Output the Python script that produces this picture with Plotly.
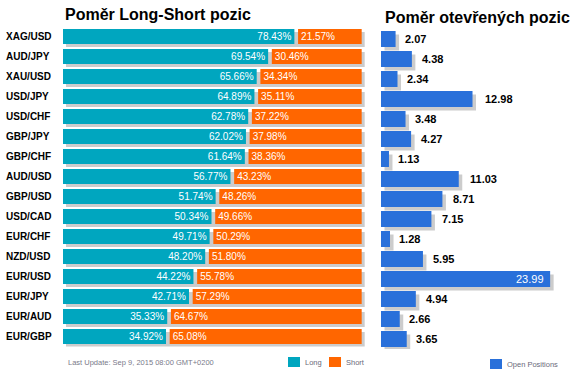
import plotly.graph_objects as go

# ---------------- data ----------------
pairs = ["XAG/USD", "AUD/JPY", "XAU/USD", "USD/JPY", "USD/CHF", "GBP/JPY", "GBP/CHF", "AUD/USD",
         "GBP/USD", "USD/CAD", "EUR/CHF", "NZD/USD", "EUR/USD", "EUR/JPY", "EUR/AUD", "EUR/GBP"]
long_pct = [78.43, 69.54, 65.66, 64.89, 62.78, 62.02, 61.64, 56.77,
            51.74, 50.34, 49.71, 48.20, 44.22, 42.71, 35.33, 34.92]
short_pct = [21.57, 30.46, 34.34, 35.11, 37.22, 37.98, 38.36, 43.23,
             48.26, 49.66, 50.29, 51.80, 55.78, 57.29, 64.67, 65.08]
open_pos = [2.07, 4.38, 2.34, 12.98, 3.48, 4.27, 1.13, 11.03,
            8.71, 7.15, 1.28, 5.95, 23.99, 4.94, 2.66, 3.65]

title_left = "Poměr Long-Short pozic"
title_right = "Poměr otevřených pozic"
update_text = "Last Update: Sep 9, 2015 08:00 GMT+0200"

# ---------------- style ----------------
W, H = 580, 376
FONT = "Liberation Sans, Arial, sans-serif"
TEAL = "#00A6BF"
ORANGE = "#FF6600"
BLUE = "#2970DA"
SHADOW = "#CCCCCC"

def px_x(x):
    return x / W

def px_y(y):
    return 1 - y / H

n = len(pairs)
ROW = 20.0  # px per row
# left chart geometry
L_X0, L_X1, L_SCALE = 63, 372, 2.95     # px, px, px per unit
GAP = 1.25                               # units between long & short
L_SHX = 3 / L_SCALE
L_W = 15 / ROW
# right chart geometry
R_X0, R_X1, R_SCALE = 381, 580, 7.05
R_SHX = 3.5 / R_SCALE
R_W = 16 / ROW

left_top = 36.5 - ROW / 2
right_top = 39.0 - ROW / 2

fig = go.Figure()

# left shadows
fig.add_trace(go.Bar(
    y=pairs, x=[l + s + GAP for l, s in zip(long_pct, short_pct)], base=L_SHX,
    orientation="h", width=L_W, offset=-L_W / 2 + 3 / ROW,
    marker=dict(color=SHADOW, line=dict(width=0)), hoverinfo="skip",
    xaxis="x", yaxis="y", showlegend=False))
# long
fig.add_trace(go.Bar(
    y=pairs, x=long_pct, base=0, orientation="h", width=L_W, offset=-L_W / 2,
    marker=dict(color=TEAL, line=dict(width=0)),
    text=[f"{v:.2f}%" for v in long_pct], textposition="inside", insidetextanchor="end",
    textangle=0, constraintext="none",
    textfont=dict(color="white", size=10, family=FONT),
    name="Long", xaxis="x", yaxis="y", showlegend=False))
# short
fig.add_trace(go.Bar(
    y=pairs, x=short_pct, base=[l + GAP for l in long_pct], orientation="h",
    width=L_W, offset=-L_W / 2,
    marker=dict(color=ORANGE, line=dict(width=0)),
    text=[f"{v:.2f}%" for v in short_pct], textposition="inside", insidetextanchor="start",
    textangle=0, constraintext="none",
    textfont=dict(color="white", size=10, family=FONT),
    name="Short", xaxis="x", yaxis="y", showlegend=False))

# right shadows
fig.add_trace(go.Bar(
    y=pairs, x=open_pos, base=R_SHX, orientation="h", width=R_W,
    offset=-R_W / 2 + 3.5 / ROW,
    marker=dict(color=SHADOW, line=dict(width=0)), hoverinfo="skip",
    xaxis="x2", yaxis="y2", showlegend=False))
# right bars
fig.add_trace(go.Bar(
    y=pairs, x=open_pos, base=0, orientation="h", width=R_W, offset=-R_W / 2,
    marker=dict(color=BLUE, line=dict(width=0)),
    name="Open Positions", xaxis="x2", yaxis="y2", showlegend=False))

annotations = []
for p, v in zip(pairs, open_pos):
    shift = 6.5 + 0.28 * v
    end_px = R_X0 + v * R_SCALE
    if end_px + shift + 28 > W:
        annotations.append(dict(x=v, y=p, xref="x2", yref="y2", text=f"{v:.2f}",
                                showarrow=False, xanchor="right", yanchor="middle", xshift=-4,
                                font=dict(color="white", size=11, family=FONT)))
    else:
        annotations.append(dict(x=v, y=p, xref="x2", yref="y2", text=f"<b>{v:.2f}</b>",
                                showarrow=False, xanchor="left", yanchor="middle", xshift=shift,
                                font=dict(color="#000000", size=11, family=FONT)))

# titles
annotations.append(dict(x=px_x(63), y=px_y(15), xref="paper", yref="paper", text=f"<b>{title_left}</b>",
                        showarrow=False, xanchor="left", yanchor="middle",
                        font=dict(size=16, color="black", family=FONT)))
annotations.append(dict(x=px_x(383), y=px_y(17), xref="paper", yref="paper", text=f"<b>{title_right}</b>",
                        showarrow=False, xanchor="left", yanchor="middle",
                        font=dict(size=16, color="black", family=FONT)))
# footer
annotations.append(dict(x=px_x(66), y=px_y(362), xref="paper", yref="paper", text=update_text,
                        showarrow=False, xanchor="left", yanchor="middle",
                        font=dict(size=7.5, color="#7a7a8a", family=FONT)))
legend_items = [("Long", TEAL, 288), ("Short", ORANGE, 329), ("Open Positions", BLUE, 490)]
shapes = []
for label, col, x0 in legend_items:
    yc = 362 if label != "Open Positions" else 364
    shapes.append(dict(type="rect", xref="paper", yref="paper", x0=px_x(x0), x1=px_x(x0 + 12),
                       y0=px_y(yc - 5), y1=px_y(yc + 5), fillcolor=col, line=dict(width=0)))
    annotations.append(dict(x=px_x(x0 + 15), y=px_y(yc), xref="paper", yref="paper", text=label,
                            showarrow=False, xanchor="left", yanchor="middle",
                            font=dict(size=7.5, color="#6a6a7a", family=FONT)))

fig.update_layout(
    width=W, height=H, margin=dict(l=0, r=0, t=0, b=0),
    paper_bgcolor="white", plot_bgcolor="white",
    barmode="overlay", font=dict(family=FONT),
    xaxis=dict(domain=[px_x(L_X0), px_x(L_X1)], range=[0, (L_X1 - L_X0) / L_SCALE],
               visible=False, fixedrange=True),
    yaxis=dict(type="category", categoryorder="array", categoryarray=pairs,
               range=[n - 0.5, -0.5],
               domain=[px_y(left_top + n * ROW), px_y(left_top)],
               anchor="free", position=px_x(2), ticklabelposition="inside",
               showline=False, ticks="", showgrid=False, zeroline=False,
               tickfont=dict(family=FONT, size=10, color="black", weight="bold")),
    xaxis2=dict(domain=[px_x(R_X0), px_x(R_X1)], range=[0, (R_X1 - R_X0) / R_SCALE],
                anchor="y2", visible=False),
    yaxis2=dict(type="category", categoryorder="array", categoryarray=pairs,
                range=[n - 0.5, -0.5],
                domain=[px_y(right_top + n * ROW), px_y(right_top)],
                anchor="x2", visible=False),
    annotations=annotations, shapes=shapes,
)

fig.write_html("out.html", config={"displayModeBar": False},
               post_script="document.body.style.margin='0';document.body.style.overflow='hidden';")
